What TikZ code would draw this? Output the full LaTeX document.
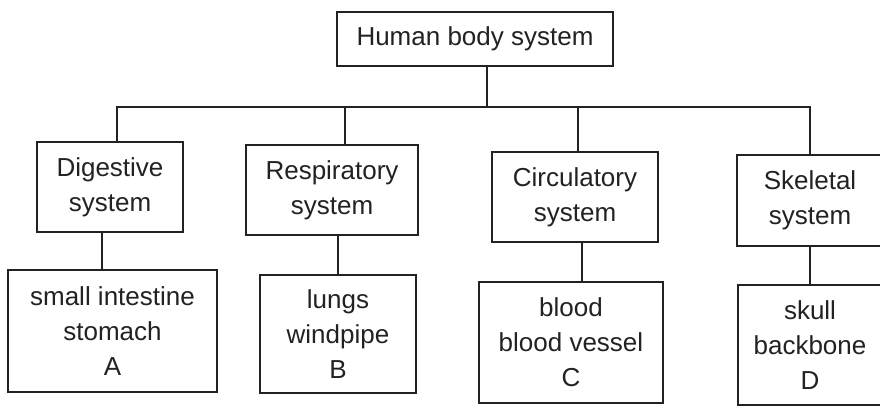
\documentclass[tikz,border=0pt]{standalone}
\usepackage{fontspec}
\setmainfont{Liberation Sans}
\definecolor{ink}{HTML}{222222}
\begin{document}
\begin{tikzpicture}[x=1pt,y=-1pt,
  box/.style={draw=ink,line width=1.8pt,text=ink,align=center,inner sep=0pt,
    font=\fontsize{26}{35}\selectfont},
  link/.style={draw=ink,line width=1.8pt}]
\useasboundingbox (0,0) rectangle (880,408);
\fill[white] (0,0) rectangle (880,408);
\node[box,minimum width=276pt,minimum height=54pt] (top) at (475,39) {Human body system};
\node[box,minimum width=146pt,minimum height=90pt] (dig) at (110,187) {Digestive\\system};
\node[box,minimum width=172pt,minimum height=90pt] (resp) at (332,190) {Respiratory\\system};
\node[box,minimum width=166pt,minimum height=90pt] (circ) at (575,197) {Circulatory\\system};
\node[box,minimum width=146pt,minimum height=91pt] (skel) at (810,200.5) {Skeletal\\system};
\node[box,minimum width=209pt,minimum height=122pt] (A) at (112.5,331) {small intestine\\stomach\\A};
\node[box,minimum width=156pt,minimum height=118pt] (B) at (338,334) {lungs\\windpipe\\B};
\node[box,minimum width=184pt,minimum height=121pt] (C) at (571,342.5) {blood\\blood vessel\\C};
\node[box,minimum width=144pt,minimum height=120pt] (D) at (810,345) {skull\\backbone\\D};
\coordinate (bl) at (117,107);
\coordinate (br) at (810,107);
\draw[link] ([xshift=12pt]top.south) -- ([xshift=12pt]top.south |- bl);
\draw[link] ([xshift=7pt]dig.north) -- (bl) -- (br) -- (skel.north);
\draw[link] ([xshift=13pt]resp.north) -- ([xshift=13pt]resp.north |- bl);
\draw[link] ([xshift=3pt]circ.north) -- ([xshift=3pt]circ.north |- bl);
\draw[link] ([xshift=-8pt]dig.south) -- ([xshift=-8pt]dig.south |- A.north);
\draw[link] ([xshift=6pt]resp.south) -- ([xshift=6pt]resp.south |- B.north);
\draw[link] ([xshift=7pt]circ.south) -- ([xshift=7pt]circ.south |- C.north);
\draw[link] (skel.south) -- (D.north);
\end{tikzpicture}
\end{document}
